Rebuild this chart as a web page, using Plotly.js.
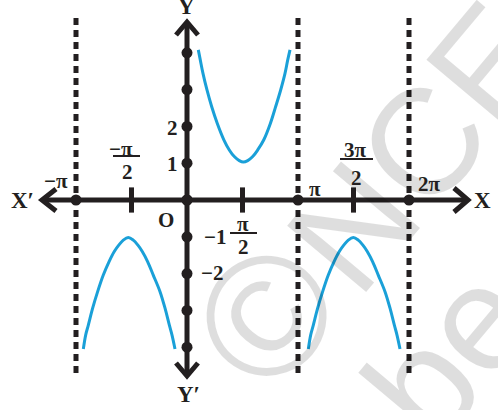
<!DOCTYPE html>
<html>
<head>
<meta charset="utf-8">
<script src="https://cdn.plot.ly/plotly-3.0.1.min.js"></script>
<style>
  html, body { margin: 0; padding: 0; background: #fff; }
  #chart { width: 498px; height: 410px; }
</style>
</head>
<body>
<div id="chart"></div>
<script>
/** y = cosec x sketch — x values are in multiples of π. */

/* ─── Data ─── */
const upperX = [0.102, 0.120, 0.144, 0.180, 0.222, 0.273, 0.333, 0.381, 0.426, 0.471, 0.507,
                0.547, 0.592, 0.637, 0.691, 0.751, 0.799, 0.844, 0.883, 0.907, 0.928];
const upperY = [4.08, 3.80, 3.44, 2.99, 2.54, 2.08, 1.63, 1.36, 1.18, 1.07, 1.03,
                1.07, 1.18, 1.36, 1.63, 2.08, 2.54, 2.99, 3.44, 3.80, 4.08];

const lowerLeftX = [-0.934, -0.913, -0.889, -0.850, -0.805, -0.754, -0.703, -0.655, -0.613, -0.574, -0.529,
                    -0.484, -0.444, -0.403, -0.354, -0.304, -0.243, -0.198, -0.159, -0.135, -0.108];
const lowerRightX = [1.093, 1.114, 1.138, 1.177, 1.222, 1.273, 1.324, 1.372, 1.414, 1.453, 1.498,
                     1.543, 1.583, 1.624, 1.673, 1.723, 1.784, 1.829, 1.868, 1.892, 1.919];
const lowerY = [-4.05, -3.67, -3.40, -2.94, -2.49, -2.04, -1.68, -1.40, -1.22, -1.09, -1.02,
                -1.09, -1.22, -1.40, -1.68, -2.04, -2.49, -2.94, -3.40, -3.67, -4.05];

const asymptoteX = [-1, 1, 2];
const xDotVals = [-1, 0, 1, 2];
const xTickVals = [-0.5, 0.5, 1.5];
const yDotVals = [-4, -3, -2, -1, 0, 1, 2, 3, 4];

/* ─── Frame: pixel <-> data ─── */
const W = 498, H = 410;
const X0 = 187, Y0 = 200, SX = 111, SY = 36.8;
const dx = px => (px - X0) / SX;
const dy = py => (Y0 - py) / SY;
const pX = px => px / W;
const pY = py => 1 - py / H;

const INK = '#231f20';
const CURVE = '#1aa0d8';
const SERIF = '"Liberation Serif","DejaVu Serif",serif';

/* ─── Traces ─── */
const curveLine = { color: CURVE, width: 3, shape: 'spline', smoothing: 1 };
const traces = [
  { x: upperX, y: upperY, mode: 'lines', line: curveLine, hoverinfo: 'skip' },
  { x: lowerLeftX, y: lowerY, mode: 'lines', line: curveLine, hoverinfo: 'skip' },
  { x: lowerRightX, y: lowerY, mode: 'lines', line: curveLine, hoverinfo: 'skip' },
  {
    x: xTickVals, y: xTickVals.map(() => 0),
    mode: 'markers',
    marker: { symbol: 'line-ns', size: 18, line: { color: INK, width: 5 } },
    hoverinfo: 'skip',
  },
  {
    x: xDotVals, y: xDotVals.map(() => 0),
    mode: 'markers', marker: { color: INK, size: 11 }, hoverinfo: 'skip',
  },
  {
    x: yDotVals.map(() => 0), y: yDotVals,
    mode: 'markers', marker: { color: INK, size: 11 }, hoverinfo: 'skip',
  },
];

/* ─── Shapes: axes, arrows, asymptotes, fraction bars ─── */
const axisLine = { color: INK, width: 5 };
const chevron = (pts) => ({
  type: 'path', layer: 'below', line: axisLine,
  path: 'M' + pts.map(p => dx(p[0]) + ',' + dy(p[1])).join(' L'),
});
const shapes = [
  { type: 'line', layer: 'below', x0: dx(42), x1: dx(468), y0: 0, y1: 0, line: axisLine },
  { type: 'line', layer: 'below', x0: 0, x1: 0, y0: dy(22), y1: dy(376), line: axisLine },
  chevron([[56, 189], [42, 200], [56, 211]]),
  chevron([[454, 188], [468, 200], [454, 212]]),
  chevron([[176, 35], [187, 22], [198, 35]]),
  chevron([[176, 363], [187, 376], [198, 363]]),
];
asymptoteX.forEach(a => shapes.push({
  type: 'line', layer: 'below', x0: a, x1: a, y0: dy(18), y1: dy(374),
  line: { color: INK, width: 5, dash: '7px,5px' },
}));
const bar = (x0, x1, y) => ({
  type: 'line', xref: 'paper', yref: 'paper',
  x0: pX(x0), x1: pX(x1), y0: pY(y), y1: pY(y),
  line: { color: INK, width: 2 },
});
shapes.push(bar(113, 140, 156), bar(230, 257, 233), bar(340, 373, 159));

/* ─── Labels ─── */
const label = (text, x, y, size) => ({
  text: '<b>' + text + '</b>', xref: 'paper', yref: 'paper',
  x: pX(x), y: pY(y), xanchor: 'center', yanchor: 'middle',
  showarrow: false, font: { family: SERIF, size: size || 21, color: INK },
});
// faint publisher watermark
const mark = (text, x, y, size) => ({
  text: text, xref: 'paper', yref: 'paper', x: pX(x), y: pY(y),
  xanchor: 'center', yanchor: 'middle', showarrow: false, textangle: -50,
  font: { family: '"Liberation Sans",sans-serif', size: size, color: 'rgba(0,0,0,0.13)' },
});

const annotations = [
  mark('©', 266, 316, 170),
  mark('NCE', 420, 147, 150),
  mark('be r', 478, 318, 150),
  label('X′', 22, 200, 23),
  label('X', 482, 200, 23),
  label('Y', 186, 6, 23),
  label('Y′', 188, 394, 23),
  label('−π', 56, 181),
  label('−π', 121, 149),
  label('2', 127, 172),
  label('2', 172, 128),
  label('1', 172, 164),
  label('O', 166, 220),
  label('−1', 215, 237),
  label('π', 243, 224),
  label('2', 243, 247),
  label('−2', 212, 273),
  label('π', 315, 189),
  label('3π', 355, 150),
  label('2', 356, 178),
  label('2π', 429, 184),
];

const hidden = { visible: false, fixedrange: true };
const layout = {
  width: W, height: H,
  margin: { l: 0, r: 0, t: 0, b: 0 },
  paper_bgcolor: '#fff', plot_bgcolor: '#fff',
  showlegend: false,
  xaxis: { ...hidden, range: [dx(0), dx(W)] },
  yaxis: { ...hidden, range: [dy(H), dy(0)] },
  shapes: shapes,
  annotations: annotations,
};

Plotly.newPlot('chart', traces, layout, { staticPlot: true, displayModeBar: false });
</script>
</body>
</html>
